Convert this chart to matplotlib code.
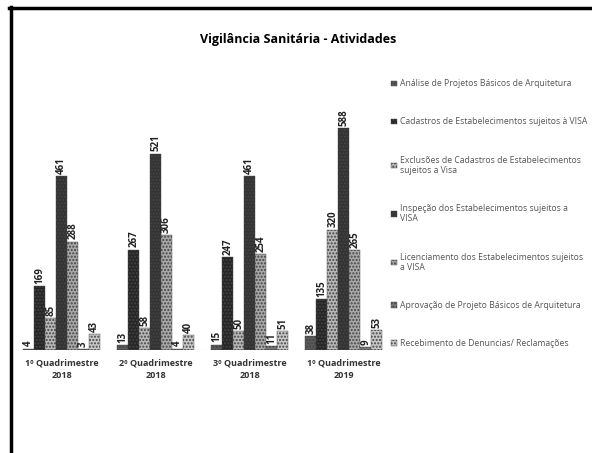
import matplotlib
matplotlib.use('Agg')
import matplotlib.pyplot as plt
from matplotlib.lines import Line2D
import numpy as np

# data
quadrimestres = ['1º Quadrimestre\n2018', '2º Quadrimestre\n2018',
                 '3º Quadrimestre\n2018', '1º Quadrimestre\n2019']
series_names = ['Análise de Projetos Básicos de Arquitetura',
                'Cadastros de Estabelecimentos sujeitos à VISA',
                'Exclusões de Cadastros de Estabelecimentos\nsujeitos a Visa',
                'Inspeção dos Estabelecimentos sujeitos a\nVISA',
                'Licenciamento dos Estabelecimentos sujeitos\na VISA',
                'Aprovação de Projeto Básicos de Arquitetura',
                'Recebimento de Denuncias/ Reclamações']
analise = [4, 13, 15, 38]
cadastros = [169, 267, 247, 135]
exclusoes = [85, 58, 50, 320]
inspecao = [461, 521, 461, 588]
licenciamento = [288, 306, 254, 265]
aprovacao = [3, 4, 11, 9]
recebimento = [43, 40, 51, 53]

all_series = [analise, cadastros, exclusoes, inspecao, licenciamento, aprovacao, recebimento]
colors = ['#5a5a5a', '#262626', '#b8b8b8', '#333333', '#a8a8a8', '#7a7a7a', '#c8c8c8']

plt.rcParams['font.family'] = ['Open Sans', 'DejaVu Sans']

fig = plt.figure(figsize=(5.92, 4.53), dpi=100)
ax = fig.add_axes([0.02, 0.227, 0.64, 0.541])

x = np.arange(len(quadrimestres))
w = 0.117
for i, (vals, c) in enumerate(zip(all_series, colors)):
    pos = x + (i - 3) * w
    bars = ax.bar(pos, vals, width=w, color=c, edgecolor='#444444', linewidth=0.3,
                  hatch='.....', label=series_names[i])
    for b, v in zip(bars, vals):
        ax.text(b.get_x() + b.get_width() / 2, v + 6, str(v), rotation=90,
                ha='center', va='bottom', fontsize=7, fontweight='bold', color='#222222')

ax.set_xlim(-0.53, 3.5)
ax.set_ylim(0, 650)
ax.axhline(0, color='#888888', linewidth=0.8, linestyle=':')
for s in ax.spines.values():
    s.set_visible(False)
ax.set_yticks([])
ax.set_xticks(x)
ax.set_xticklabels(quadrimestres, fontsize=6.5, fontweight='bold', color='#333333',
                   linespacing=1.5)
ax.tick_params(axis='x', length=0, pad=6)

fig.text(0.503, 0.912, 'Vigilância Sanitária - Atividades', ha='center', va='center',
         fontsize=9, fontweight='bold')

leg = ax.legend(loc='upper left', bbox_to_anchor=(0.648, 0.842), bbox_transform=fig.transFigure,
                frameon=False, fontsize=6.2, labelspacing=3.38, handlelength=0.6,
                handleheight=0.6, handletextpad=0.4, labelcolor='#555555')

# scanned page border (top and left)
fig.add_artist(Line2D([0.016, 1.0], [0.982, 0.982], transform=fig.transFigure,
                      color='black', linewidth=2.5))
fig.add_artist(Line2D([0.018, 0.018], [0.0, 0.984], transform=fig.transFigure,
                      color='black', linewidth=2.5))

fig.savefig('out.png', dpi=100)
